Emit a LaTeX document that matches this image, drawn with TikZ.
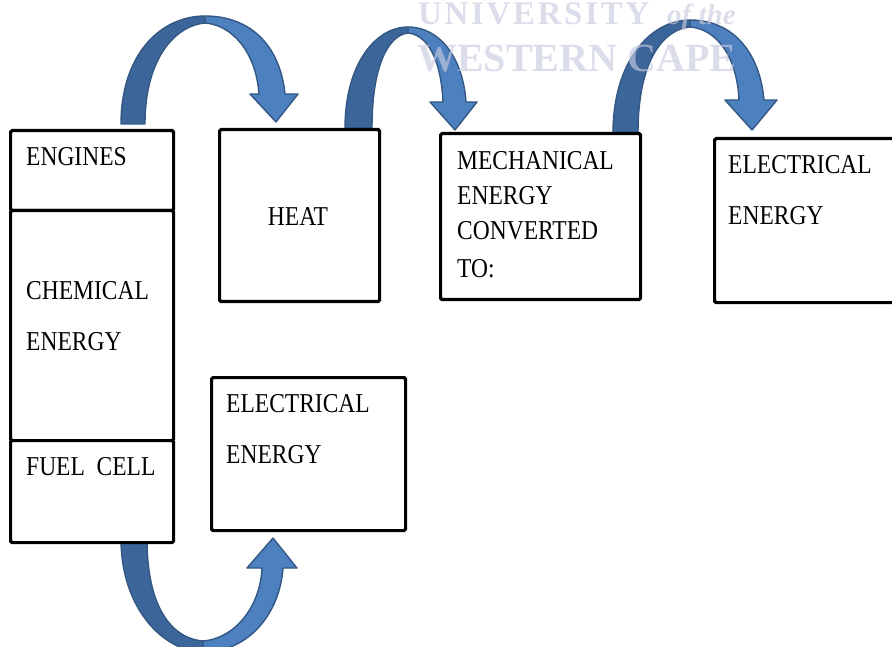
\documentclass[tikz,border=0pt]{standalone}
\usepackage{fontspec}
\setmainfont{Liberation Serif}
\usepackage{graphicx}
\definecolor{arrdark}{RGB}{60,101,153}
\definecolor{arrlight}{RGB}{77,128,190}
\definecolor{arrline}{RGB}{52,88,132}
\definecolor{wm}{RGB}{200,203,224}
\newcommand{\tx}[1]{\scalebox{1}[1.16]{#1}}
\begin{document}
\begin{tikzpicture}[x=1pt,y=-1pt,
  box/.style={draw=black, line width=3.2pt, fill=white, rounded corners=1.5pt, anchor=north west, inner sep=0pt},
  lbl/.style={anchor=base west, inner sep=0pt, font=\fontsize{23.5}{27}\selectfont},
  darkband/.style={fill=arrdark, draw=arrline, line width=1.4pt, line join=round},
  lightband/.style={fill=arrlight, draw=arrline, line width=1.4pt, line join=round},
  wmtext/.style={anchor=base west, inner sep=0pt, text=wm, text opacity=0.65, text height=22pt, text depth=0pt}]
\useasboundingbox (0,0) rectangle (892,647);
\clip (0,0) rectangle (892,647);

% arrow 1: engines -> heat
\path[lightband] (205,16) .. controls (250,16) and (280,45) .. (285,94) -- (298,94) -- (276,122) -- (250,94) -- (259,94) .. controls (256,52) and (232,25) .. (205,23) -- cycle;
\path[darkband] (121,124) .. controls (121,55) and (160,16) .. (205,16) -- (205,23) .. controls (178,25) and (145,55) .. (145,124) -- cycle;

% arrow 2: heat -> mechanical
\path[lightband] (408,27) .. controls (440,27) and (463,58) .. (466,102) -- (477,102) -- (455,130) -- (430,102) -- (443,102) .. controls (441,60) and (428,35) .. (408,33) -- cycle;
\path[darkband] (345,128) .. controls (345,65) and (375,27) .. (408,27) -- (408,33) .. controls (390,35) and (372,62) .. (372,128) -- cycle;

% arrow 3: mechanical -> electrical
\path[lightband] (690,20) .. controls (735,20) and (760,55) .. (764,100) -- (777,100) -- (752,130) -- (725,100) -- (739,100) .. controls (737,57) and (717,29) .. (690,27) -- cycle;
\path[darkband] (613,133) .. controls (613,62) and (650,20) .. (690,20) -- (690,27) .. controls (665,29) and (638,58) .. (638,133) -- cycle;

% arrow 4: fuel cell -> electrical
\path[lightband] (203,652) .. controls (250,652) and (280,612) .. (283,568) -- (297,568) -- (273,538) -- (247,568) -- (262,568) .. controls (260,610) and (232,639) .. (203,641) -- cycle;
\path[darkband] (121,539) .. controls (121,610) and (165,652) .. (203,652) -- (203,641) .. controls (175,639) and (147,612) .. (147,539) -- cycle;

% boxes
\node[box, minimum width=163pt, minimum height=80pt] (engines) at (9,129) {};
\node[box, minimum width=163pt, minimum height=230pt] (chem) at (9,209) {};
\node[box, minimum width=163pt, minimum height=102pt] (fuel) at (9,439) {};
\node[box, minimum width=160pt, minimum height=172pt] (heat) at (218,128) {};
\node[box, minimum width=200pt, minimum height=166pt] (mech) at (439,132) {};
\node[box, minimum width=200pt, minimum height=164pt] (elec1) at (713,137) {};
\node[box, minimum width=194pt, minimum height=153pt] (elec2) at (210,376) {};

% labels
\node[lbl] (tEng) at (26,166) {\tx{ENGINES}};
\node[lbl] (tChem1) at (26,300) {\tx{CHEMICAL}};
\node[lbl] (tChem2) at (26,350) {\tx{ENERGY}};
\node[lbl] (tFuel) at (26,475) {\tx{FUEL\ \ CELL}};
\node[lbl, anchor=base] (tHeat) at (298,226) {\tx{HEAT}};
\node[lbl] (tMech1) at (457,170) {\tx{MECHANICAL}};
\node[lbl] (tMech2) at (457,205) {\tx{ENERGY}};
\node[lbl] (tMech3) at (457,240) {\tx{CONVERTED}};
\node[lbl] (tMech4) at (457,278) {\tx{TO:}};
\node[lbl] (tEl1a) at (728,174) {\tx{ELECTRICAL}};
\node[lbl] (tEl1b) at (728,225) {\tx{ENERGY}};
\node[lbl] (tEl2a) at (226,412) {\tx{ELECTRICAL}};
\node[lbl] (tEl2b) at (226,463) {\tx{ENERGY}};

% watermark
\node[wmtext, font=\fontsize{33}{37}\selectfont\bfseries\addfontfeature{LetterSpace=8}] (wm1) at (418,25) {UNIVERSITY};
\node[wmtext, font=\fontsize{29}{33}\selectfont\bfseries\itshape] (wm2) at (667,25) {of the};
\node[wmtext, font=\fontsize{40}{44}\selectfont\bfseries] (wm3) at (417,72) {WESTERN CAPE};
\end{tikzpicture}
\end{document}
